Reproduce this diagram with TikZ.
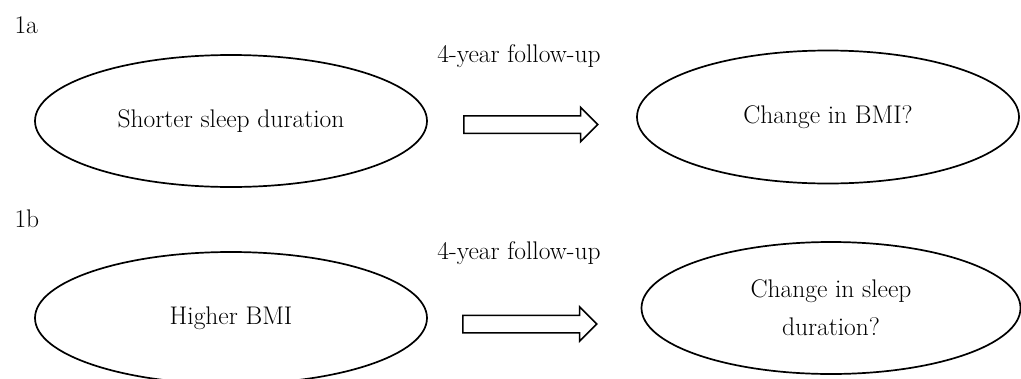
\documentclass[tikz,border=0pt]{standalone}
\usepackage{tikz}
\usetikzlibrary{shapes.geometric,shapes.arrows}

\begin{document}
\begin{tikzpicture}[x=1pt,y=-1pt,
  every node/.style={font=\fontsize{25.5}{38}\selectfont},
  oval/.style={draw,ellipse,line width=1.7pt,inner sep=0pt},
  fatarrow/.style={draw,single arrow,line width=1.5pt,inner sep=8pt,
    minimum height=134pt,single arrow head extend=8.5pt,anchor=west}]
\useasboundingbox (0,0) rectangle (1021,378);
\node[anchor=base west] (labA) at (11,33) {1a};
\node[anchor=base west] (labB) at (11,227) {1b};
\node[anchor=base] (fupA) at (519,62) {4-year follow-up};
\node[anchor=base] (fupB) at (519,259) {4-year follow-up};
\node[oval,minimum width=392pt,minimum height=132pt] (sleep) at (231,121) {Shorter sleep duration};
\node[oval,minimum width=382pt,minimum height=133pt] (bmichg) at (828,117) {Change in BMI?};
\node[oval,minimum width=392pt,minimum height=132pt] (bmi) at (231,318) {Higher BMI};
\node[oval,minimum width=379pt,minimum height=132pt,align=center] (sleepchg) at (831,308) {Change in sleep\\duration?};
\node[fatarrow] (arrA) at (463,124.5) {};
\node[fatarrow] (arrB) at (462,324) {};
\end{tikzpicture}
\end{document}
